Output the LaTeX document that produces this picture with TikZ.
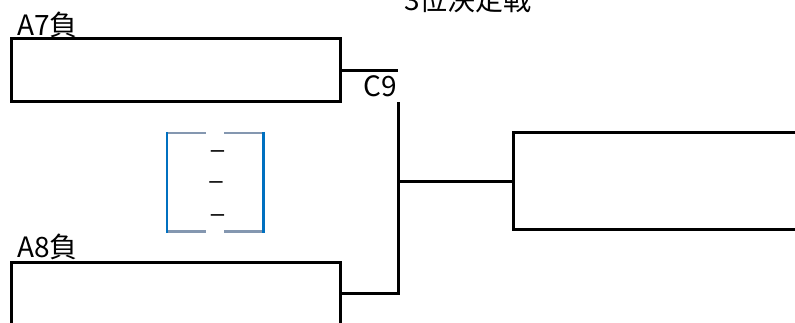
\documentclass[tikz,border=0pt]{standalone}
\usepackage{fontspec}
\setmainfont{Noto Sans CJK JP}
\newfontfamily\dashfont{Liberation Sans}
\usepackage{tikz}
\usetikzlibrary{positioning}
\usetikzlibrary{calc}
\definecolor{bracketblue}{RGB}{0,112,192}
\definecolor{bracketgrey}{RGB}{132,151,176}
\tikzset{basic box/.style={draw,rectangle,inner sep=0pt,outer sep=0pt}}
\tikzset{team box/.style={basic box,line width=3pt,
                          minimum width=329pt,
                          minimum height=63pt}}
\tikzset{link/.style={draw,
                      line width=3pt}}

\begin{document}
\begin{tikzpicture}
      [
      x=1pt,y=-1pt,
      lbl/.style={inner sep=0pt,font=\fontsize{28}{32}\selectfont},
      dash label/.style={inner sep=0pt,font=\dashfont\fontsize{24}{28}\selectfont},
      ]
      \useasboundingbox (0,0) rectangle (795,323);
      \clip (0,0) rectangle (795,323);

      % title
      \node [lbl,anchor=base] (title) at (468,11) {3位決定戦};

      % boxes
      \node [team box] (a7) at (175.5,70.5) {};
      \node [team box] (a8) at (175.5,293.5) {};
      \node [team box,minimum width=330pt,minimum height=97pt] (final) at (678,181.5) {};

      \node [lbl,anchor=base west] (a7lbl) at ([xshift=6pt,yshift=3pt]a7.north west) {A7負};
      \node [lbl,anchor=base west] (a8lbl) at ([xshift=6pt,yshift=4pt]a8.north west) {A8負};

      % edges
      \path [link] (a7.east) -- ++(58,0) coordinate (c9end);
      \node [lbl,anchor=base east] (c9) at ([xshift=-1pt,yshift=-26pt]c9end) {C9};
      \path [link] ([yshift=-32pt]c9end) |- (a8.east);
      \path [link] (final.west) -- (final.west -| c9end);

      % bracket
      \draw [line width=2.5pt,color=bracketgrey] (168,133) -- (206,133) (224,133) -- (262,133)
      (168,231.5) -- (206,231.5) (224,231.5) -- (262,231.5);
      \draw [line width=2.8pt,color=bracketblue] (167,132) -- (167,233) (263.5,132) -- (263.5,233);

      \foreach \i/\x/\y in {1/217.5/151,2/216/182,3/217.5/215}
      {
      \node [dash label,anchor=base] (dash\i) at (\x,\y+7) {–};
      }

    \end{tikzpicture}
\end{document}
